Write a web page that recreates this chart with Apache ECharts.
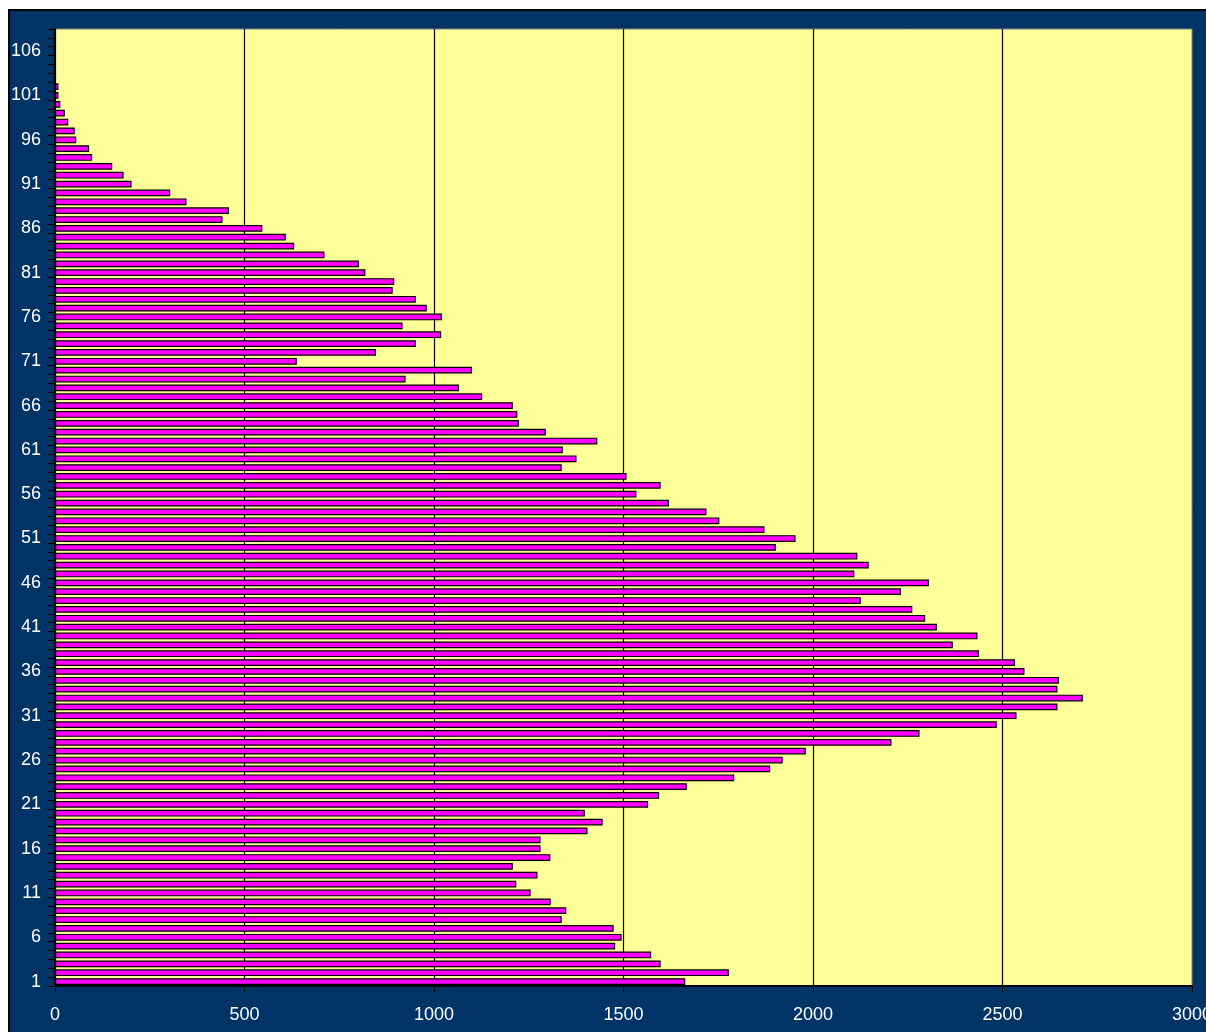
<!DOCTYPE html>
<html>
<head>
<meta charset="utf-8">
<script src="https://cdn.jsdelivr.net/npm/echarts@6/dist/echarts.min.js"></script>
<style>
  html, body { margin: 0; padding: 0; background: #fff; overflow: hidden; }
  #frame {
    position: absolute; left: 8px; top: 9px;
    width: 1240px; height: 1060px;
    border-left: 2px solid #000; border-top: 2px solid #000;
    background: #003366;
  }
  #main { position: absolute; left: 0; top: 0; width: 1240px; height: 1032px; }
</style>
</head>
<body>
<div id="frame"></div>
<div id="main"></div>
<script>
// categories 1..108
var categories = [];
for (var i = 1; i <= 108; i++) categories.push(String(i));

// values, category 1 first
var values = [
  1663, 1778, 1598, 1573, 1478, 1495, 1474, 1337, 1349, 1308,
  1255, 1217, 1273, 1208, 1307, 1281, 1281, 1405, 1445, 1398,
  1565, 1594, 1667, 1792, 1887, 1920, 1981, 2207, 2281, 2485,
  2537, 2645, 2712, 2645, 2649, 2558, 2533, 2438, 2369, 2434,
  2327, 2296, 2262, 2126, 2232, 2306, 2109, 2147, 2117, 1902,
  1954, 1872, 1753, 1719, 1620, 1534, 1598, 1508, 1337, 1376,
  1340, 1431, 1295, 1224, 1220, 1208, 1127, 1066, 925, 1100,
  638, 847, 952, 1019, 917, 1021, 981, 952, 891, 895,
  819, 802, 711, 631, 609, 547, 442, 459, 347, 304,
  202, 181, 151, 98, 90, 56, 52, 35, 26, 14,
  9, 9, null, null, null, null, null, null
];

var xTicks = { min: 0, max: 3000, interval: 500 };

var myChart = echarts.init(document.getElementById("main"));

var option = {
  animation: false,
  textStyle: { fontFamily: "Liberation Sans, Arial, sans-serif" },
  grid: {
    left: 55,
    top: 29,
    width: 1137,
    height: 957,
    show: true,
    backgroundColor: "#FFFF99",
    borderColor: "#808080",
    borderWidth: 1,
  },
  xAxis: {
    type: "value",
    min: xTicks.min,
    max: xTicks.max,
    interval: xTicks.interval,
    axisLine: { show: true, lineStyle: { color: "#000", width: 2 } },
    axisTick: { show: true, length: 6, lineStyle: { color: "#000", width: 1 } },
    axisLabel: {
      color: "#fff",
      fontSize: 18,
      margin: 20,
      formatter: function (v) { return String(v); },
    },
    splitLine: { show: true, showMaxLine: false, lineStyle: { color: "#000", width: 1.2 } },
  },
  yAxis: {
    type: "category",
    data: categories,
    axisLine: { show: true, lineStyle: { color: "#000", width: 2 } },
    axisTick: { show: true, interval: 0, length: 7, lineStyle: { color: "#000", width: 1 } },
    axisLabel: { color: "#fff", fontSize: 18, interval: 4, margin: 14 },
    splitLine: { show: false },
  },
  series: [
    {
      type: "bar",
      data: values,
      barCategoryGap: "24%",
      itemStyle: { color: "#FF00FF", borderColor: "#000", borderWidth: 1.2 },
    },
  ],
};

myChart.setOption(option);
</script>
</body>
</html>
